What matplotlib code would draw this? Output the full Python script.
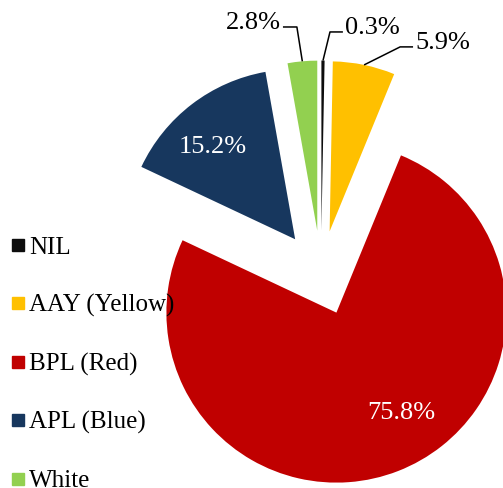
import numpy as np
import matplotlib
matplotlib.use('Agg')
import matplotlib.pyplot as plt
from matplotlib.lines import Line2D

plt.rcParams['font.family'] = ['Liberation Serif', 'DejaVu Serif']

# card categories and their share of households (%)
categories = ['NIL', 'AAY (Yellow)', 'BPL (Red)', 'APL (Blue)', 'White']
shares = [0.3, 5.9, 75.8, 15.2, 2.8]
colors = ['#0D0D0D', '#FFC000', '#C00000', '#17375E', '#92D050']

# px -> data: pie radius is 170 px, pie origin at (321, 273) px
PX = 1 / 170.0

fig = plt.figure(figsize=(5.03, 4.88), dpi=100)
ax = fig.add_axes([0, 0, 1, 1])
wedges, _ = ax.pie(shares, colors=colors, startangle=90, counterclock=False,
                   explode=[0.25] * len(shares), radius=1)
ax.set_xlim(-321 * PX, 182 * PX)
ax.set_ylim(-215 * PX, 273 * PX)
ax.set_aspect('auto')
ax.axis('off')

# outside labels: (elbow offset from arc, horizontal run)
outside = {
    0: ((0.041, 0.168), 0.076),
    1: ((0.212, 0.106), 0.076),
    4: ((-0.032, 0.202), -0.082),
}
for i, (elbow_off, run) in outside.items():
    w = wedges[i]
    mid = np.deg2rad((w.theta1 + w.theta2) / 2)
    cx, cy = w.center
    arc_pt = (cx + w.r * np.cos(mid), cy + w.r * np.sin(mid))
    elbow = (arc_pt[0] + elbow_off[0], arc_pt[1] + elbow_off[1])
    end = (elbow[0] + run, elbow[1])
    ax.plot([arc_pt[0], elbow[0], end[0]], [arc_pt[1], elbow[1], end[1]],
            color='black', lw=1.1, solid_capstyle='butt')
    side = 1 if run > 0 else -1
    ax.text(end[0] + side * 0.012, end[1] + 0.022, '{:.1f}%'.format(shares[i]),
            ha='left' if side > 0 else 'right', va='center', fontsize=19,
            color='black')

# inside labels, offset from each wedge's (exploded) centre
inside = {2: (0.381, -0.591), 3: (-0.483, 0.542)}
for i, (dx, dy) in inside.items():
    cx, cy = wedges[i].center
    ax.text(cx + dx, cy + dy, '{:.1f}%'.format(shares[i]), ha='center',
            va='center', fontsize=19, color='white')

handles = [Line2D([], [], marker='s', ls='none', color=c, markersize=8.6)
           for c in colors]
fig.legend(handles, categories, loc='upper left',
           bbox_to_anchor=(10.5 / 503, 1 - 236 / 488), frameon=False,
           fontsize=18, handlelength=0.6, handletextpad=0.14,
           labelspacing=1.42, borderpad=0, borderaxespad=0)

fig.savefig('out.png', dpi=100)
